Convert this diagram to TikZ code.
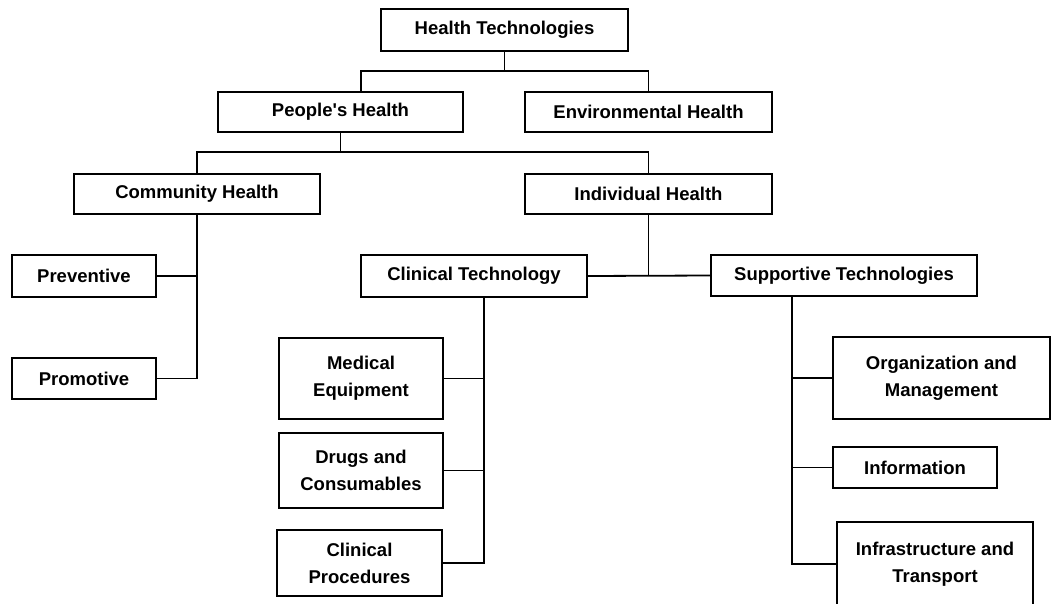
\documentclass[tikz,border=0pt]{standalone}
\usepackage{fontspec}
\setmainfont{Liberation Sans}
\begin{document}
\begin{tikzpicture}[x=1pt,y=-1pt,
  box/.style={draw, line width=1.8pt, fill=white, inner sep=0pt, align=center,
    font=\fontsize{18.5}{27}\selectfont\bfseries},
  conn/.style={line width=1.8pt}]
\clip (0,0) rectangle (1053,603);
\fill[white] (0,0) rectangle (1053,603);
% nodes
\node[box, minimum width=247pt, minimum height=42pt] (ht) at (504.5,30) {Health Technologies};
\node[box, minimum width=245pt, minimum height=40pt] (ph) at (340.5,112) {People\textquotesingle s Health};
\node[box, minimum width=247pt, minimum height=40pt] (eh) at (648.5,112) {Environmental Health};
\node[box, minimum width=246pt, minimum height=40pt] (ch) at (197,194) {Community Health};
\node[box, minimum width=247pt, minimum height=40pt] (ih) at (648.5,194) {Individual Health};
\node[box, minimum width=144pt, minimum height=42pt] (prev) at (84,276) {Preventive};
\node[box, minimum width=144pt, minimum height=41pt] (prom) at (84,378.5) {Promotive};
\node[box, minimum width=226pt, minimum height=42pt] (ct) at (474,276) {Clinical Technology};
\node[box, minimum width=266pt, minimum height=41pt] (st) at (844,275.5) {Supportive Technologies};
\node[box, minimum width=164pt, minimum height=81pt] (me) at (361,378.5) {Medical\\Equipment};
\node[box, minimum width=164pt, minimum height=75pt] (dc) at (361,470.5) {Drugs and\\Consumables};
\node[box, minimum width=165pt, minimum height=66pt] (cp) at (359.5,563) {Clinical\\Procedures};
\node[box, minimum width=217pt, minimum height=82pt] (om) at (941.5,378) {Organization and\\Management};
\node[box, minimum width=164pt, minimum height=41pt] (inf) at (915,467.5) {Information};
\node[box, minimum width=196pt, minimum height=84pt] (it) at (935,564) {Infrastructure and\\Transport};
% junction coordinates
\coordinate (j1) at (504.5,71);
\coordinate (j2) at (340.5,152);
\coordinate (cx) at (484,300);
\coordinate (sx) at (792,300);
% connectors
\draw[conn] (ht.south) -- (j1);
\draw[conn] ([xshift=20.5pt]ph.north) |- (eh.north |- j1) -- (eh.north);
\draw[conn] (ph.south) -- (j2);
\draw[conn] (ch.north) |- (ih.north |- j2) -- (ih.north);
\draw[conn] (ch.south) |- (prom.east);
\draw[conn] (prev.east) -- (prev.east -| ch.south);
\draw[conn] (ih.south) -- (ih.south |- ct.east);
\draw[conn] (ct.east) -- (st.west);
\draw[conn] (ct.south -| cx) |- (cp.east);
\draw[conn] (me.east) -- (me.east -| cx);
\draw[conn] (dc.east) -- (dc.east -| cx);
\draw[conn] (st.south -| sx) |- (it.west);
\draw[conn] (om.west) -- (om.west -| sx);
\draw[conn] (inf.west) -- (inf.west -| sx);
\end{tikzpicture}
\end{document}
